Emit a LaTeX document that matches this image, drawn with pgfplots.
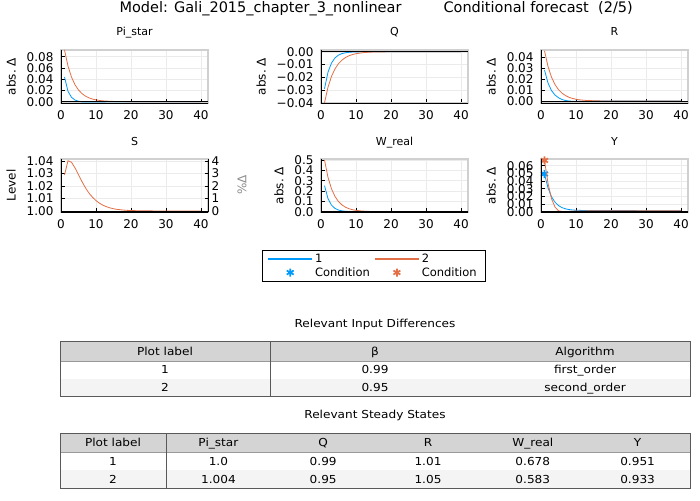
\documentclass[border=0pt]{standalone}
\usepackage{fontspec}
\setmainfont{DejaVu Sans}
\newfontfamily\tabfont[FakeStretch=1.1]{DejaVu Sans}
\usepackage{pgfplots}
\pgfplotsset{compat=1.18}

\definecolor{c1}{HTML}{009AFA}
\definecolor{c2}{HTML}{E26F46}
\definecolor{hdr}{HTML}{D4D4D4}
\definecolor{alt}{HTML}{F4F4F4}
\definecolor{frm}{HTML}{D0D0D0}
\newcommand{\fs}[1]{\fontsize{#1}{#1}\selectfont}

\pgfplotsset{
  panel/.style={
    scale only axis, width=147pt, height=53pt, anchor=south west,
    xmin=0, xmax=42, xtick={0,10,20,30,40}, xticklabels={0,10,20,30,40},
    scaled y ticks=false, scaled x ticks=false,
    axis line style={draw=frm, line width=1.2pt},
    grid=major, grid style={draw=black!8, line width=0.5pt},
    tick align=inside, major tick length=3.5pt,
    tick style={black, line width=0.7pt},
    xtick pos=left, ytick pos=left,
    tick label style={font=\fs{12}},
    xticklabel style={yshift=-4pt},
    yticklabel style={xshift=-4pt},
    ylabel style={font=\fs{12}}, ylabel shift=4pt,
    clip mode=individual,
    after end axis/.code={\draw[black, line width=0.9pt] (rel axis cs:0,1) -- (rel axis cs:0,0) -- (rel axis cs:1,0);},
  },
  s1/.style={c1, line width=0.8pt},
  s2/.style={c2, line width=0.8pt},
  zero/.style={black, line width=0.9pt, forget plot},
  cond/.style={only marks, mark=asterisk, mark size=4pt, mark options={line width=1.7pt, solid}},
  lineleg/.style={legend image code/.code={\fill[color=#1, fill=#1] (0pt,-0.5pt) rectangle (43pt,0.5pt);}},
  markleg/.style={legend image code/.code={\draw[mark repeat=2,mark phase=2,##1] plot coordinates {(0pt,0pt) (21.5pt,0pt) (43pt,0pt)};}},
}

\begin{document}
\begin{tikzpicture}
\useasboundingbox (0,0) rectangle (700pt,500pt);

% overall title
\node[anchor=base west, font=\fs{14.5}] at (116pt,487.3pt) {Model: Gali\_2015\_chapter\_3\_nonlinear};
\node[anchor=base west, font=\fs{14.5}] at (440pt,487.3pt) {Conditional forecast\ \ (2/5)};

% ---- Pi_star
\begin{axis}[panel, at={(61pt,397pt)}, ymin=-0.0023, ymax=0.092,
  ytick={0,0.02,0.04,0.06,0.08}, yticklabels={0.00,0.02,0.04,0.06,0.08},
  ylabel={abs.\ Δ}]
\addplot[s1] coordinates {(1,0.0440)(2,0.0185)(3,0.0078)(4,0.0030)(5,0.0008)(6,-0.0003)(7,-0.0006)(8,-0.0007)(9,-0.0006)(10,-0.0005)(11,-0.0004)(12,-0.0003)(14,-0.0002)(16,-0.0001)(20,0)(25,0)(30,0)(35,0)(40,0)};
\addplot[s2] coordinates {(1,0.0920)(2,0.0635)(3,0.0438)(4,0.0302)(5,0.0208)(6,0.0144)(7,0.0099)(8,0.0068)(9,0.0047)(10,0.0033)(11,0.0022)(12,0.0015)(13,0.0011)(14,0.0007)(15,0.0005)(16,0.0003)(18,0.0002)(20,0.0001)(25,0)(30,0)(35,0)(40,0)};
\addplot[zero] coordinates {(0,0) (42,0)};
\end{axis}
\node[anchor=base, font=\fs{11}] at (134.5pt,464pt) {Pi\_star};

% ---- Q
\begin{axis}[panel, at={(321pt,397pt)}, ymin=-0.0402, ymax=0.0014,
  ytick={-0.04,-0.03,-0.02,-0.01,0}, yticklabels={−0.04,−0.03,−0.02,−0.01,0.00},
  ylabel={abs.\ Δ}]
\addplot[s1] coordinates {(1,-0.0290)(2,-0.0160)(3,-0.0088)(4,-0.0048)(5,-0.0026)(6,-0.0014)(7,-0.0008)(8,-0.0004)(9,-0.0002)(10,-0.0001)(12,0)(15,0)(20,0)(25,0)(30,0)(35,0)(40,0)};
\addplot[s2] coordinates {(1,-0.0400)(2,-0.0278)(3,-0.0193)(4,-0.0134)(5,-0.0093)(6,-0.0065)(7,-0.0045)(8,-0.0031)(9,-0.0022)(10,-0.0015)(11,-0.0011)(12,-0.0007)(13,-0.0005)(14,-0.0003)(15,-0.0002)(17,-0.0001)(20,0)(25,0)(30,0)(35,0)(40,0)};
\addplot[zero] coordinates {(0,0) (42,0)};
\end{axis}
\node[anchor=base, font=\fs{11}] at (394.5pt,464pt) {Q};

% ---- R
\begin{axis}[panel, at={(541pt,397pt)}, ymin=-0.0018, ymax=0.0468,
  ytick={0,0.01,0.02,0.03,0.04}, yticklabels={0.00,0.01,0.02,0.03,0.04},
  ylabel={abs.\ Δ}]
\addplot[s1] coordinates {(1,0.0284)(2,0.0165)(3,0.0096)(4,0.0055)(5,0.0030)(6,0.0014)(7,0.0005)(8,0)(9,-0.0002)(10,-0.0003)(11,-0.0003)(12,-0.0002)(14,-0.0001)(17,0)(20,0)(25,0)(30,0)(35,0)(40,0)};
\addplot[s2] coordinates {(1,0.0460)(2,0.0317)(3,0.0219)(4,0.0151)(5,0.0104)(6,0.0072)(7,0.0050)(8,0.0034)(9,0.0024)(10,0.0016)(11,0.0011)(12,0.0008)(13,0.0005)(14,0.0004)(15,0.0003)(17,0.0001)(20,0)(25,0)(30,0)(35,0)(40,0)};
\addplot[zero] coordinates {(0,0) (42,0)};
\end{axis}
\node[anchor=base, font=\fs{11}] at (614.5pt,464pt) {R};

% ---- S (level on the left, percent on the right)
\begin{axis}[panel, at={(61pt,288pt)}, ymin=0.9992, ymax=1.0416,
  ytick={1,1.01,1.02,1.03,1.04}, yticklabels={1.00,1.01,1.02,1.03,1.04},
  ylabel={Level}]
\addplot[s1] coordinates {(1,1.0)(10,1.0)(20,1.0)(30,1.0)(40,1.0)};
\addplot[s2] coordinates {(1,1.0288)(2,1.0402)(3,1.0390)(4,1.0345)(5,1.0290)(6,1.0235)(7,1.0185)(8,1.0143)(9,1.0110)(10,1.0083)(11,1.0062)(12,1.0046)(13,1.0034)(14,1.0025)(15,1.0018)(16,1.0013)(17,1.0010)(18,1.0007)(19,1.0005)(20,1.0004)(22,1.0002)(25,1.0001)(30,1.0)(35,1.0)(40,1.0)};
\addplot[zero] coordinates {(0,1) (42,1)};
\end{axis}
\begin{axis}[scale only axis, width=147pt, height=53pt, anchor=south west, at={(61pt,288pt)},
  xmin=0, xmax=42, hide x axis, axis y line*=right,
  ymin=-0.08, ymax=4.16, ytick={0,1,2,3,4}, yticklabels={0,1,2,3,4},
  tick align=inside, major tick length=3.5pt, tick style={black, line width=0.7pt},
  axis line style={black, line width=0.9pt},
  tick label style={font=\fs{12}}]
\end{axis}
\node[rotate=90, font=\fs{12}, text=black!45] at (242pt,315pt) {\%Δ};
\node[anchor=base, font=\fs{11}] at (134.5pt,354.3pt) {S};

% ---- W_real
\begin{axis}[panel, at={(321pt,288pt)}, ymin=-0.003, ymax=0.51,
  ytick={0,0.1,0.2,0.3,0.4,0.5}, yticklabels={0.0,0.1,0.2,0.3,0.4,0.5},
  ylabel={abs.\ Δ}]
\addplot[s1] coordinates {(1,0.252)(2,0.126)(3,0.063)(4,0.0315)(5,0.0158)(6,0.0079)(7,0.0039)(8,0.0020)(9,0.0010)(10,0.0005)(12,0.0001)(15,0)(20,0)(25,0)(30,0)(35,0)(40,0)};
\addplot[s2] coordinates {(1,0.500)(2,0.3325)(3,0.2211)(4,0.1470)(5,0.0978)(6,0.0650)(7,0.0432)(8,0.0288)(9,0.0191)(10,0.0127)(11,0.0085)(12,0.0056)(13,0.0037)(14,0.0025)(15,0.0017)(17,0.0007)(20,0.0002)(25,0)(30,0)(35,0)(40,0)};
\addplot[zero] coordinates {(0,0) (42,0)};
\end{axis}
\node[anchor=base, font=\fs{11}] at (394.5pt,354.3pt) {W\_real};

% ---- Y (carries the legend)
\begin{axis}[panel, at={(541pt,288pt)}, ymin=-0.0004, ymax=0.0687,
  ytick={0,0.01,0.02,0.03,0.04,0.05,0.06}, yticklabels={0.00,0.01,0.02,0.03,0.04,0.05,0.06},
  ylabel={abs.\ Δ},
  legend columns=2, transpose legend, legend cell align=left,
  legend style={at={(-1.1361,-1.0189)}, anchor=center, draw=none, fill=white, name=leg,
    font=\fs{11.5}, inner xsep=6pt, inner ysep=2pt,
    nodes={inner xsep=3pt, inner ysep=1.5pt},
    /tikz/every even column/.append style={column sep=2pt}}]
\addplot[s1, lineleg=c1] coordinates {(1,0.0492)(2,0.0310)(3,0.0195)(4,0.0124)(5,0.0080)(6,0.0053)(7,0.0037)(8,0.0028)(9,0.0022)(10,0.0019)(12,0.0016)(15,0.0015)(20,0.0014)(25,0.0014)(30,0.0013)(35,0.0013)(40,0.0013)};
\addlegendentry{1}
\addplot[cond, c1, markleg] coordinates {(1,0.0492)};
\addlegendentry{Condition}
\addplot[s2, lineleg=c2] coordinates {(1,0.0668)(2,0.0370)(3,0.0170)(4,0.0060)(5,0.0012)(6,0.0003)(7,0.0002)(8,0.0004)(9,0.0006)(10,0.0008)(12,0.0010)(15,0.0011)(20,0.0012)(25,0.0012)(30,0.0012)(35,0.0012)(40,0.0012)};
\addlegendentry{2}
\addplot[cond, c2, markleg] coordinates {(1,0.0668)};
\addlegendentry{Condition}
\addplot[zero] coordinates {(0,0) (42,0)};
\end{axis}
\draw[black, line width=0.8pt] (leg.south west) rectangle (leg.north east);
\node[anchor=base, font=\fs{11}] at (614.5pt,354.3pt) {Y};

% ---- table: input differences
\begin{scope}[font=\tabfont\fs{11}]
\node at (375pt,175.5pt) {Relevant Input Differences};
\fill[hdr] (60pt,139pt) rectangle (690pt,158pt);
\fill[alt] (60pt,103pt) rectangle (690pt,121pt);
\draw[black!40, line width=0.6pt] (60pt,139pt) -- (690pt,139pt);
\draw[black!65, line width=1pt] (60pt,103pt) rectangle (690pt,158pt);
\draw[black!65, line width=1pt] (270pt,103pt) -- (270pt,158pt);
\node[anchor=base] at (165pt,144.5pt) {Plot label};
\node[anchor=base] at (375pt,144.5pt) {β};
\node[anchor=base] at (585pt,144.5pt) {Algorithm};
\node[anchor=base] at (165pt,126pt) {1};
\node[anchor=base] at (375pt,126pt) {0.99};
\node[anchor=base] at (585pt,126pt) {first\_order};
\node[anchor=base] at (165pt,108pt) {2};
\node[anchor=base] at (375pt,108pt) {0.95};
\node[anchor=base] at (585pt,108pt) {second\_order};

% ---- table: steady states
\node at (375pt,85pt) {Relevant Steady States};
\fill[hdr] (60pt,48pt) rectangle (690pt,67pt);
\fill[alt] (60pt,12pt) rectangle (690pt,30pt);
\draw[black!40, line width=0.6pt] (60pt,48pt) -- (690pt,48pt);
\draw[black!65, line width=1pt] (60pt,12pt) rectangle (690pt,67pt);
\draw[black!65, line width=1pt] (166pt,12pt) -- (166pt,67pt);
\foreach \x/\a/\b/\c in {113/Plot label/1/2, 218.4/Pi\_star/1.0/1.004, 323.2/Q/0.99/0.95,
    428/R/1.01/1.05, 532.8/W\_real/0.678/0.583, 637.6/Y/0.951/0.933} {
  \node[anchor=base] at (\x pt,53.5pt) {\a};
  \node[anchor=base] at (\x pt,35pt) {\b};
  \node[anchor=base] at (\x pt,17pt) {\c};
}
\end{scope}
\end{tikzpicture}
\end{document}
